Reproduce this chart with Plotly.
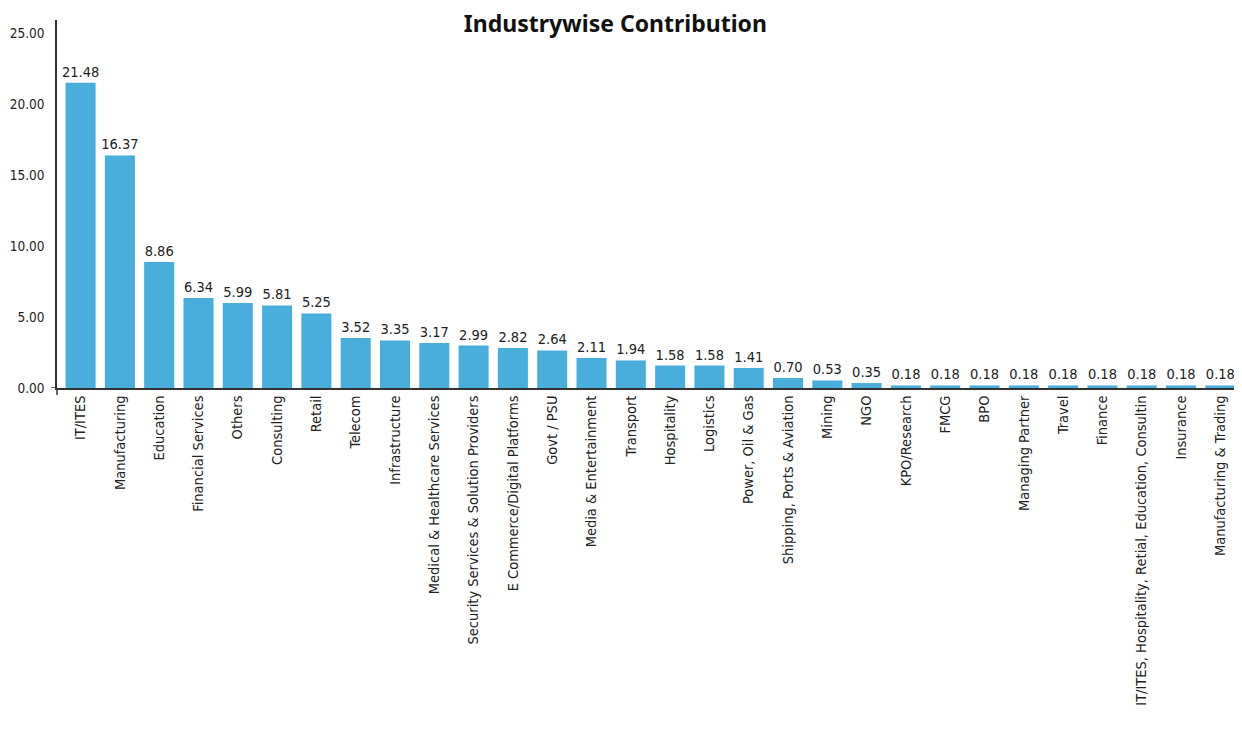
import plotly.graph_objects as go

categories = [
    "IT/ITES", "Manufacturing", "Education", "Financial Services", "Others",
    "Consulting", "Retail", "Telecom", "Infrastructure",
    "Medical & Healthcare Services", "Security Services & Solution Providers",
    "E Commerce/Digital Platforms", "Govt / PSU", "Media & Entertainment",
    "Transport", "Hospitality", "Logistics", "Power, Oil & Gas",
    "Shipping, Ports & Aviation", "Mining", "NGO", "KPO/Research", "FMCG",
    "BPO", "Managing Partner", "Travel", "Finance",
    "IT/ITES, Hospitality, Retial, Education, Consultin", "Insurance",
    "Manufacturing & Trading",
]
values = [
    21.48, 16.37, 8.86, 6.34, 5.99, 5.81, 5.25, 3.52, 3.35, 3.17, 2.99, 2.82,
    2.64, 2.11, 1.94, 1.58, 1.58, 1.41, 0.70, 0.53, 0.35, 0.18, 0.18, 0.18,
    0.18, 0.18, 0.18, 0.18, 0.18, 0.18,
]
y_ticks = [0, 5, 10, 15, 20, 25]

FONT = "DejaVu Sans Condensed, Liberation Sans Narrow, Roboto, sans-serif"
AXIS = "#333333"

fig = go.Figure(go.Bar(
    x=categories, y=values,
    marker=dict(color="#49aedc", line=dict(width=0)),
    texttemplate="%{y:.2f}", textposition="outside", textangle=0,
    constraintext="none",
    textfont=dict(family=FONT, size=14.5, color="#222222"),
    cliponaxis=False,
))

fig.update_layout(
    width=1242, height=754,
    margin=dict(l=49, r=10, t=12, b=374, autoexpand=False),
    paper_bgcolor="white", plot_bgcolor="white",
    bargap=0.236,
    showlegend=False,
    title=dict(text="<b>Industrywise Contribution</b>", x=0.489, xanchor="center",
               y=1 - 16 / 754, yanchor="middle", yref="container",
               font=dict(family="Noto Sans, Open Sans, sans-serif", size=23, color="#111111")),
    font=dict(family=FONT, size=14.5, color="#222222"),
    shapes=[
        dict(type="line", xref="paper", yref="y", xsizemode="pixel", xanchor=0,
             x0=-6, x1=0, y0=0, y1=0, line=dict(color=AXIS, width=1.5)),
        dict(type="line", xref="paper", yref="paper", ysizemode="pixel", yanchor=0,
             x0=0, x1=0, y0=-7, y1=0, line=dict(color=AXIS, width=1.5)),
    ],
)
fig.update_xaxes(
    range=[-0.6, 29.5],
    showline=True, linecolor=AXIS, linewidth=1.5,
    tickangle=-90, showgrid=False, ticks="", automargin=False,
    tickfont=dict(family=FONT, size=14.5, color="#222222"),
)
fig.update_yaxes(
    range=[0, 25.9], tickvals=y_ticks, tickformat=".2f",
    showline=True, linecolor=AXIS, linewidth=1.5,
    showgrid=False, zeroline=False, ticks="", ticklabelstandoff=8,
    automargin=False,
    tickfont=dict(family=FONT, size=13.5, color="#222222"),
)

fig.write_html("out.html")
